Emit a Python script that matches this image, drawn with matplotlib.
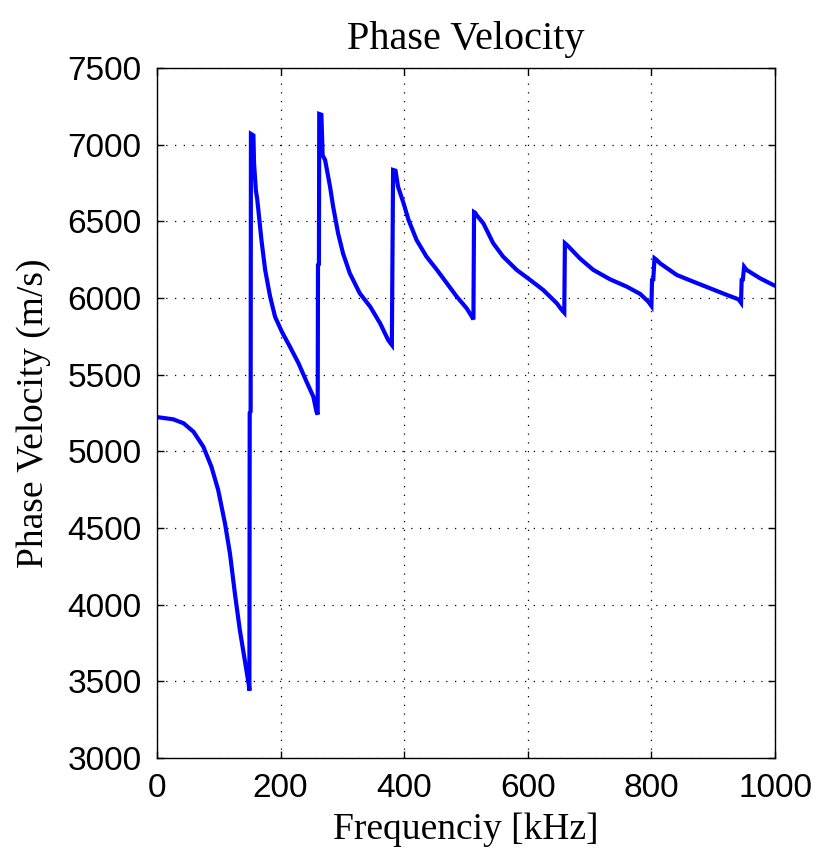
import matplotlib
matplotlib.use("Agg")
import matplotlib.pyplot as plt

# frequency [kHz] and phase velocity [m/s]
freq = [0, 2, 26, 43, 59, 75, 88, 99, 110, 118, 126, 134, 142, 149, 149.5,
        150, 151.5, 152, 156, 157, 160, 162, 164, 169, 175, 183, 191, 202, 215,
        229, 242, 253, 258, 260,
        260.5, 262, 262.5, 266, 268, 272, 280, 285, 293, 301, 312, 328, 345,
        361, 374, 380,
        381, 382, 386, 390, 399, 407, 420, 436, 453, 469, 485, 501, 511, 512,
        513, 515, 517, 528, 544, 560, 582, 604, 625, 647, 655, 659,
        660, 662, 666, 684, 706, 733, 760, 782, 795, 800,
        801, 803, 805, 808, 814, 841, 868, 895, 922, 941, 945,
        946, 948, 950, 954, 976, 997, 1000]
vel = [5225, 5222, 5209, 5183, 5128, 5030, 4900, 4748, 4530, 4335, 4074, 3835, 3639, 3465, 3440,
       5250, 5260, 7070, 7060, 6880, 6700, 6650, 6574, 6378, 6183, 6009, 5878, 5780, 5683,
       5574, 5454, 5356, 5259, 5240,
       6215, 6220, 7200, 7195, 6930, 6900, 6726, 6596, 6422, 6291, 6161, 6031, 5943,
       5835, 5726, 5694,
       6270, 6835, 6830, 6726, 6617, 6509, 6378, 6270, 6183, 6096, 6009, 5933, 5868, 5860,
       6560, 6555, 6541, 6487, 6357, 6270, 6183, 6117, 6052, 5965, 5922, 5904,
       6357, 6350, 6335, 6259, 6183, 6122, 6074, 6026, 5976, 5948,
       6117, 6120, 6259, 6250, 6226, 6150, 6106, 6063, 6020, 5991, 5969,
       6117, 6120, 6204, 6183, 6128, 6085, 6080]

xticks = [0, 200, 400, 600, 800, 1000]
yticks = [3000, 3500, 4000, 4500, 5000, 5500, 6000, 6500, 7000, 7500]

fig = plt.figure(figsize=(8.19, 8.57), dpi=100)
ax = fig.add_axes([0.1917, 0.1155, 0.7546, 0.8052])

ax.plot(freq, vel, color=(0, 0, 1), linewidth=3, solid_joinstyle="miter")

ax.set_xlim(0, 1000)
ax.set_ylim(3000, 7500)
ax.set_xticks(xticks)
ax.set_yticks(yticks)
ax.grid(True, color="black", linestyle=(0, (1, 6)), linewidth=0.9)

ax.tick_params(direction="in", length=5, width=1, top=True, right=True,
               labelsize=24, pad=11)
for lab in ax.get_xticklabels() + ax.get_yticklabels():
    lab.set_family("Liberation Sans")
for sp in ax.spines.values():
    sp.set_linewidth(1)
    sp.set_color("black")

ax.set_title("Phase Velocity", family="Liberation Serif", fontsize=29, pad=14)
ax.set_xlabel("Frequenciy [kHz]", family="Liberation Serif", fontsize=27, labelpad=6)
ax.set_ylabel("Phase Velocity (m/s)", family="Liberation Serif", fontsize=27, labelpad=12)

fig.savefig("out.png", dpi=100)
